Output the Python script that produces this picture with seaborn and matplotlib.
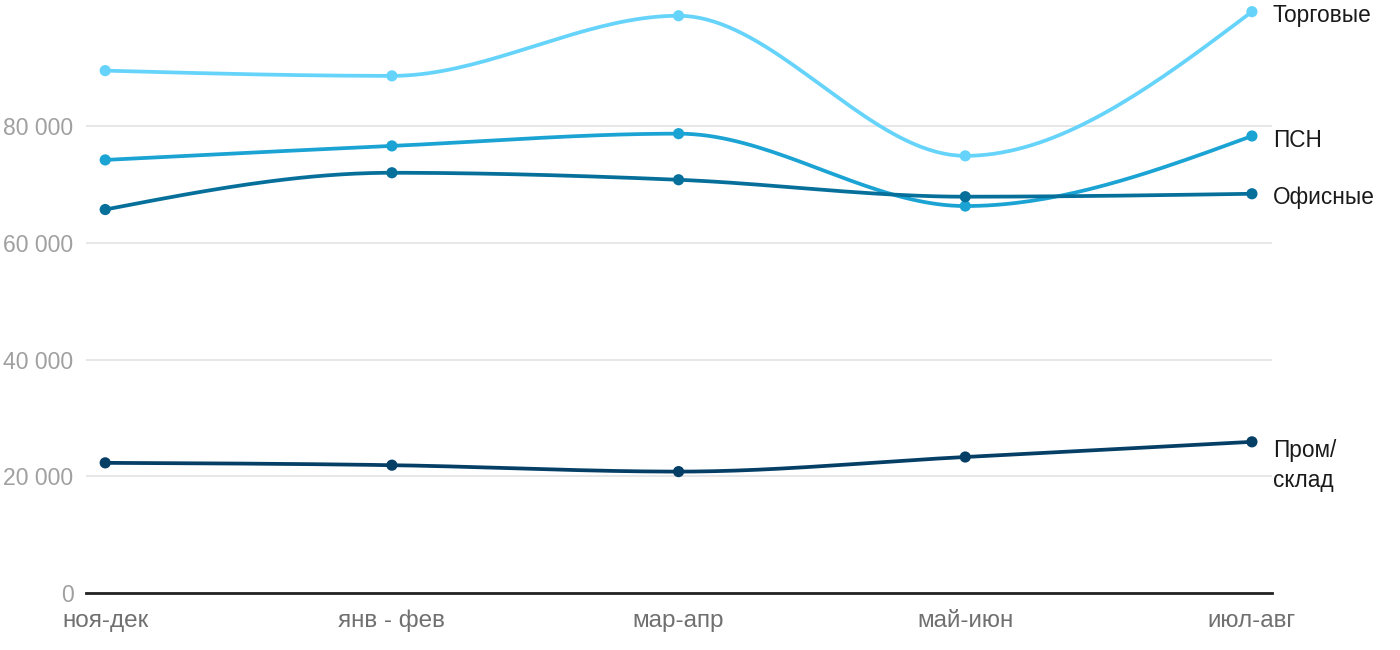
"""
Smoothed line chart of four property segments over two-month periods.

Output:
    out.png
"""
import numpy as np
import pandas as pd
import matplotlib
matplotlib.use("Agg")
import matplotlib.pyplot as plt
from matplotlib.ticker import FuncFormatter
import seaborn as sns

periods = ["ноя-дек", "янв - фев", "мар-апр", "май-июн", "июл-авг"]
series_names = ["Торговые", "ПСН", "Офисные", "Пром/\nсклад"]
torgovye = [89500, 88600, 98900, 74900, 99600]
psn = [74200, 76600, 78700, 66300, 78300]
ofisnye = [65700, 72000, 70800, 67900, 68400]
prom_sklad = [22300, 21900, 20800, 23300, 25900]
colors = ["#66d4fa", "#1ba3d3", "#06709b", "#053f66"]
y_ticks = [0, 20000, 40000, 60000, 80000]


def monotone_x(x, y, steps=40):
    # same curve as d3.curveMonotoneX
    x = np.asarray(x, float)
    y = np.asarray(y, float)
    h = np.diff(x)
    d = np.diff(y) / h
    m = np.zeros_like(y)
    for k in range(1, len(y) - 1):
        s0, s1 = d[k - 1], d[k]
        p = (s0 * h[k] + s1 * h[k - 1]) / (h[k - 1] + h[k])
        m[k] = (np.sign(s0) + np.sign(s1)) * min(abs(s0), abs(s1), 0.5 * abs(p))
    m[0] = (3 * d[0] - m[1]) / 2
    m[-1] = (3 * d[-1] - m[-2]) / 2
    xs, ys = [], []
    for k in range(len(x) - 1):
        t = np.linspace(0, 1, steps, endpoint=(k == len(x) - 2))
        h00 = 2 * t**3 - 3 * t**2 + 1
        h10 = t**3 - 2 * t**2 + t
        h01 = -2 * t**3 + 3 * t**2
        h11 = t**3 - t**2
        xs.extend(x[k] + t * h[k])
        ys.extend(h00 * y[k] + h10 * h[k] * m[k] + h01 * y[k + 1] + h11 * h[k] * m[k + 1])
    return np.array(xs), np.array(ys)


def run():
    sns.set_style("white")
    plt.rcParams["font.family"] = ["Liberation Sans", "DejaVu Sans"]

    values = [torgovye, psn, ofisnye, prom_sklad]
    pos = np.arange(len(periods))

    points = pd.DataFrame({
        "x": np.tile(pos, len(series_names)),
        "value": np.concatenate(values),
        "series": np.repeat(series_names, len(periods)),
    })
    curves = []
    for name, vals in zip(series_names, values):
        cx, cy = monotone_x(pos, vals)
        curves.append(pd.DataFrame({"x": cx, "value": cy, "series": name}))
    curves = pd.concat(curves, ignore_index=True)

    fig = plt.figure(figsize=(14, 6.5), dpi=100)
    ax = fig.add_axes([86 / 1400, 1 - 593 / 650, (1272 - 86) / 1400, 593 / 650])

    palette = dict(zip(series_names, colors))
    sns.lineplot(data=curves, x="x", y="value", hue="series", palette=palette,
                 linewidth=2.7, sort=False, estimator=None, legend=False, ax=ax)
    sns.scatterplot(data=points, x="x", y="value", hue="series", palette=palette,
                    s=65, edgecolor="none", legend=False, zorder=5, ax=ax)

    ax.set_xlim(-0.067, 4.07)
    ax.set_ylim(0, 101600)
    ax.set_yticks(y_ticks)
    ax.yaxis.set_major_formatter(FuncFormatter(lambda v, _: f"{int(v):,}".replace(",", " ")))
    ax.set_xticks(pos)
    ax.set_xticklabels(periods)
    ax.grid(axis="y", color="#e3e3e3", linewidth=1.2)
    ax.set_axisbelow(True)
    for side in ["top", "right", "left"]:
        ax.spines[side].set_visible(False)
    ax.spines["bottom"].set_color("#222222")
    ax.spines["bottom"].set_linewidth(2)
    ax.tick_params(axis="y", length=0, pad=9, labelsize=16.6, labelcolor="#a0a0a0")
    ax.tick_params(axis="x", length=0, pad=12, labelsize=17.5, labelcolor="#707070")
    ax.set_xlabel("")
    ax.set_ylabel("")

    for name, vals in zip(series_names, values):
        if "\n" in name:
            ax.annotate(name, (pos[-1], vals[-1]), xytext=(15, 2), textcoords="offset points",
                        ha="left", va="top", fontsize=16.3, color="#1a1a1a", linespacing=1.4)
        else:
            ax.annotate(name, (pos[-1], vals[-1]), xytext=(15, -3), textcoords="offset points",
                        ha="left", va="center", fontsize=16.3, color="#1a1a1a")

    fig.savefig("out.png", dpi=100)
    plt.close(fig)


if __name__ == "__main__":
    run()
